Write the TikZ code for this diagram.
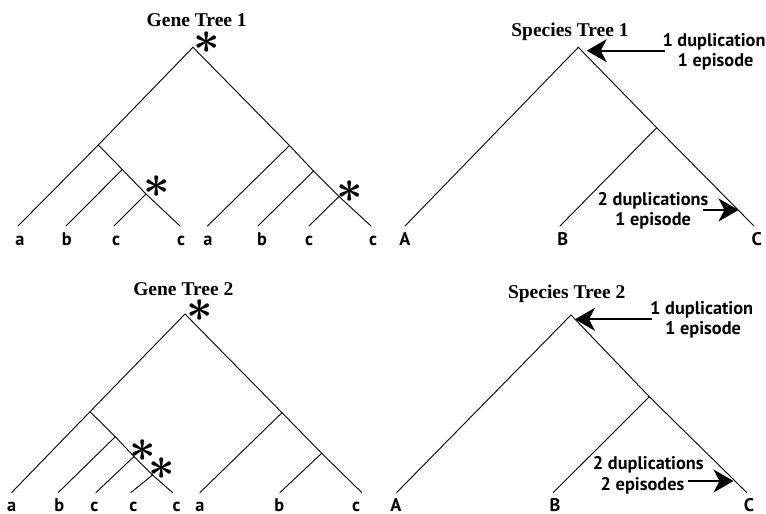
\documentclass[tikz,border=0pt]{standalone}
\usepackage{fix-cm}
\usepackage{amsmath}
\usepackage{fontspec}
\setmainfont{Liberation Serif}
\newfontfamily\labfont{PT Sans}
\usetikzlibrary{arrows.meta}
\tikzset{
  branch/.style={line width=0.9pt, line cap=round},
  leaf/.style={font=\labfont\bfseries\fontsize{18.3}{20}\selectfont, anchor=base, inner sep=0pt},
  treetitle/.style={font=\bfseries\fontsize{19.5}{22}\selectfont, anchor=base, inner sep=0pt},
  note/.style={font=\labfont\bfseries\fontsize{18.3}{20}\selectfont, anchor=base, inner sep=0pt},
  dupmark/.style={font=\fontsize{46}{46}\selectfont, inner sep=0pt},
  pointer/.style={line width=2pt, -{Stealth[length=20pt,width=23pt,inset=6pt]}},
}
\begin{document}
\begin{tikzpicture}[x=1pt,y=-1pt]
\useasboundingbox (0,0) rectangle (766,514);

% ---------------- Gene Tree 1 ----------------
\node[treetitle] (gt1) at (196.7,26.5) {Gene Tree 1};
\coordinate (g1r)  at (193,47.3);
\coordinate (g1n1) at (98.3,145);
\coordinate (g1n2) at (122.3,169.5);
\coordinate (g1n3) at (146,194);
\coordinate (g1la) at (18,226);
\coordinate (g1lb) at (66,226);
\coordinate (g1lc) at (114,226);
\coordinate (g1ld) at (180,226);
\coordinate (g1m1) at (289.5,145.5);
\coordinate (g1m2) at (313.5,171);
\coordinate (g1m3) at (339,196.5);
\coordinate (g1le) at (207.5,226);
\coordinate (g1lf) at (258,226);
\coordinate (g1lg) at (309,226);
\coordinate (g1lh) at (371,226);
\draw[branch] (g1la) -- (g1n1) -- (g1r) -- (g1m1) -- (g1m2) -- (g1m3) -- (g1lh);
\draw[branch] (g1n1) -- (g1n2) -- (g1n3) -- (g1ld);
\draw[branch] (g1n2) -- (g1lb);
\draw[branch] (g1n3) -- (g1lc);
\draw[branch] (g1m1) -- (g1le);
\draw[branch] (g1m2) -- (g1lf);
\draw[branch] (g1m3) -- (g1lg);
\node[leaf] (t1a) at (20,245) {a};
\node[leaf] (t1b) at (66.7,245) {b};
\node[leaf] (t1c) at (116,245) {c};
\node[leaf] (t1d) at (181,245) {c};
\node[leaf] (t1e) at (208,245) {a};
\node[leaf] (t1f) at (262,245) {b};
\node[leaf] (t1g) at (309,245) {c};
\node[leaf] (t1h) at (373,245) {c};
\node[dupmark] (s1a) at (206.7,43) {$\boldsymbol{\ast}$};
\node[dupmark] (s1b) at (156.7,187) {$\boldsymbol{\ast}$};
\node[dupmark] (s1c) at (350,192) {$\boldsymbol{\ast}$};

% ---------------- Species Tree 1 ----------------
\node[treetitle] (st1) at (570,36) {Species Tree 1};
\coordinate (p1r) at (578.3,47.3);
\coordinate (p1n) at (656.7,127.7);
\coordinate (p1A) at (405,226);
\coordinate (p1B) at (560,226);
\coordinate (p1C) at (754,226);
\draw[branch] (p1A) -- (p1r) -- (p1n) -- (p1C);
\draw[branch] (p1n) -- (p1B);
\node[leaf] (u1A) at (405,245) {A};
\node[leaf] (u1B) at (562.7,245) {B};
\node[leaf] (u1C) at (756.7,245) {C};
\node[note] (d1a) at (714,46.7) {1 duplication};
\node[note] (d1b) at (715.5,66) {1 episode};
\node[note] (d1c) at (653,205) {2 duplications};
\node[note] (d1d) at (653,225) {1 episode};
\coordinate (a1s) at (665,50.7);
\coordinate (a1e) at (586.7,50.7);
\coordinate (a2s) at (703,210);
\coordinate (a2e) at (738.5,210);
\draw[pointer] (a1s) -- (a1e);
\draw[pointer] (a2s) -- (a2e);

% ---------------- Gene Tree 2 ----------------
\node[treetitle] (gt2) at (183.3,295.5) {Gene Tree 2};
\coordinate (g2r)  at (185,314);
\coordinate (g2p1) at (90,411.7);
\coordinate (g2p2) at (115.3,436.7);
\coordinate (g2p3) at (134,456.5);
\coordinate (g2p4) at (152.5,475);
\coordinate (g2la) at (11.7,492.5);
\coordinate (g2lb) at (58.3,492.5);
\coordinate (g2lc) at (96,492.5);
\coordinate (g2ld) at (131,492.5);
\coordinate (g2le) at (172.5,492.5);
\coordinate (g2q1) at (282,412.7);
\coordinate (g2q2) at (321.7,453.3);
\coordinate (g2lf) at (200,492.5);
\coordinate (g2lg) at (280,492.5);
\coordinate (g2lh) at (361.7,492.5);
\draw[branch] (g2la) -- (g2p1) -- (g2r) -- (g2q1) -- (g2q2) -- (g2lh);
\draw[branch] (g2p1) -- (g2p2) -- (g2p3) -- (g2p4) -- (g2le);
\draw[branch] (g2p2) -- (g2lb);
\draw[branch] (g2p3) -- (g2lc);
\draw[branch] (g2p4) -- (g2ld);
\draw[branch] (g2q1) -- (g2lf);
\draw[branch] (g2q2) -- (g2lg);
\node[leaf] (t2a) at (11.7,511) {a};
\node[leaf] (t2b) at (59.3,511) {b};
\node[leaf] (t2c) at (94.3,511) {c};
\node[leaf] (t2d) at (133.3,511) {c};
\node[leaf] (t2e) at (176.7,511) {c};
\node[leaf] (t2f) at (200,511) {a};
\node[leaf] (t2g) at (279.3,511) {b};
\node[leaf] (t2h) at (356,511) {c};
\node[dupmark] (s2a) at (200,310.5) {$\boldsymbol{\ast}$};
\node[dupmark] (s2b) at (142.7,450.5) {$\boldsymbol{\ast}$};
\node[dupmark] (s2c) at (161.7,468.8) {$\boldsymbol{\ast}$};

% ---------------- Species Tree 2 ----------------
\node[treetitle] (st2) at (566.7,298.3) {Species Tree 2};
\coordinate (p2r) at (571,315);
\coordinate (p2n) at (649.3,396.7);
\coordinate (p2A) at (396.7,492.5);
\coordinate (p2B) at (553.3,492.5);
\coordinate (p2C) at (746.7,492.5);
\draw[branch] (p2A) -- (p2r) -- (p2n) -- (p2C);
\draw[branch] (p2n) -- (p2B);
\node[leaf] (u2A) at (396,511) {A};
\node[leaf] (u2B) at (555,511) {B};
\node[leaf] (u2C) at (749,511) {C};
\node[note] (e2a) at (701.7,314) {1 duplication};
\node[note] (e2b) at (703,334) {1 episode};
\node[note] (e2c) at (648.3,469.3) {2 duplications};
\node[note] (e2d) at (642.5,490.7) {2 episodes};
\coordinate (b1s) at (651.7,319.3);
\coordinate (b1e) at (575,319.3);
\coordinate (b2s) at (688.3,481);
\coordinate (b2e) at (733.5,481);
\draw[pointer] (b1s) -- (b1e);
\draw[pointer] (b2s) -- (b2e);
\end{tikzpicture}
\end{document}
